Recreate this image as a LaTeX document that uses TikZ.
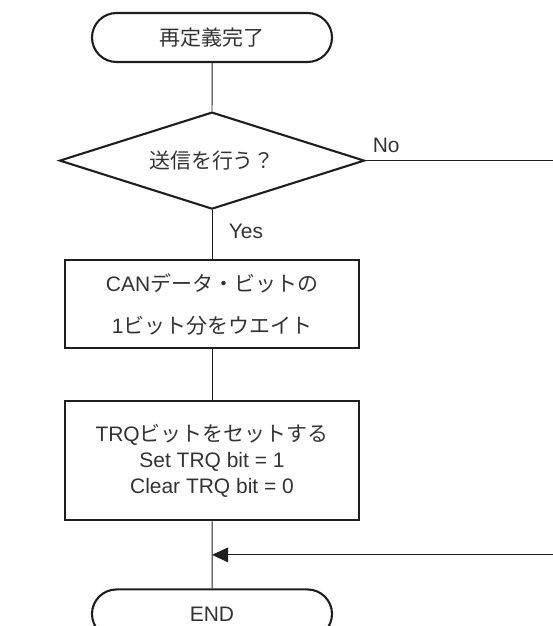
\documentclass[tikz,border=0pt]{standalone}
\usepackage{fontspec}
\setmainfont{Liberation Sans}
\newfontfamily\jpfont{Noto Sans CJK JP}
\usetikzlibrary{
    arrows.meta,
    positioning,
    calc,
    shapes.geometric,
    shapes.misc
}
\definecolor{linegray}{gray}{0.12}
\definecolor{textgray}{gray}{0.2}
\tikzset{
    % --- Terminal (start / end of the flow) ---
    terminal/.style = {
        rounded rectangle, draw=linegray, line width=1.8pt,
        minimum width=7.2cm, minimum height=1.47cm,
        inner sep=0pt
    },
    % --- Decision diamond ---
    decision/.style = {
        diamond, aspect=3.14, draw=linegray, line width=1.8pt,
        minimum width=9.15cm, minimum height=2.91cm,
        inner sep=0pt
    },
    % --- Process box ---
    process/.style = {
        rectangle, draw=linegray, line width=1.8pt,
        minimum width=8.82cm, align=center,
        inner sep=0pt
    },
    % --- Yes / No label on a branch ---
    branch/.style = {
        inner sep=0pt
    },
    % --- Flow line ---
    flow/.style = {
        draw=linegray, line width=0.85pt
    },
    % --- Return arrow into the main line ---
    back arrow/.style = {
        flow, -{Triangle[length=4.8mm, width=4.4mm]}
    }
}

\begin{document}
\begin{tikzpicture}[
    font=\fontsize{17.9}{22.5}\selectfont, text=textgray
]
\useasboundingbox (0,0) rectangle (16.59,-18.78);
\coordinate (rightEdge) at (16.59,0);

% ---------------------------------------------------------
% Flow boxes
% ---------------------------------------------------------
\node[terminal] (start) at (6.36,-1.125) {\jpfont 再定義完了};

\node[decision, below=1.44cm of start] (decide) {\jpfont 送信を行う？};

\node[process, minimum height=2.64cm, below=1.47cm of decide] (waitbit) {%
    CAN{\jpfont データ・ビットの}\\[13pt]
    1{\jpfont ビット分をウエイト}
};

\node[process, minimum height=3.57cm, below=1.53cm of waitbit] (settrq) {%
    TRQ{\jpfont ビットをセットする}\\
    Set TRQ bit = 1\\
    Clear TRQ bit = 0
};

\node[terminal, below=2.01cm of settrq] (finish) {END};

% Branch labels
\node[branch, above right=0.24cm and 0.21cm of decide.east] (nolabel) {No};
\node[branch, below right=0.42cm and 0.5cm of decide.south] (yeslabel) {Yes};

% ---------------------------------------------------------
% Flow lines
% ---------------------------------------------------------
\draw[flow] (start) -- (decide);
\draw[flow] (decide) -- (waitbit);
\draw[flow] (waitbit) -- (settrq);
\draw[flow] (settrq) -- (finish);

% No branch leaves to the right, comes back above END
\draw[flow] (decide.east) -- (decide.east -| rightEdge);
\coordinate (merge) at ($(settrq.south)!0.5!(finish.north)$);
\draw[back arrow] (merge -| rightEdge) -- (merge);

\end{tikzpicture}
\end{document}
